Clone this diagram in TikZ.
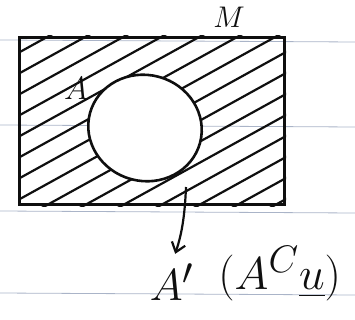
\documentclass[tikz,border=0pt]{standalone}
\usepackage{amsmath,amssymb}
\usetikzlibrary{arrows.meta,positioning,shapes.geometric}
\definecolor{PaperLine}{RGB}{170,180,200}
\definecolor{Ink}{RGB}{15,15,15}
\newcommand{\bigger}[2]{\scalebox{#1}{#2}}
\tikzset{
  universe/.style={draw=Ink,line width=3pt,minimum width=265pt,minimum height=167pt,inner sep=0pt},
  setshape/.style={ellipse,draw=Ink,fill=white,line width=2.6pt,minimum width=114pt,minimum height=106pt,inner sep=0pt},
  hatch/.style={Ink,line width=2.2pt,line cap=round},
  ruled/.style={PaperLine,line width=0.8pt},
  setname/.style={font=\Huge,text=Ink,inner sep=0pt},
  biglabel/.style={font=\Huge,text=Ink,inner sep=0pt},
  arrow/.style={-{Straight Barb[length=9pt,width=14pt]},line width=2.2pt,Ink}
}
\begin{document}
\begin{tikzpicture}[x=1pt,y=-1pt]
  \useasboundingbox (0,0) rectangle (355,320);
  % notebook lines
  \foreach \y in {40,125,211,293}{
    \draw[ruled] (0,\y) -- (355,\y+2);}
  \node[universe] (univ) at (152,121) {};
  % hatching of the complement
  \begin{scope}
    \clip (univ.south west) rectangle (univ.north east);
    \foreach \i in {0,21,...,460}{
      \draw[hatch] (0,\i) -- ++(420,-232);}
  \end{scope}
  \node[setshape,rotate=-15] (setA) at (145,128) {};
  \node[universe] at (univ) {};
  \node[setname] (lblA) at (76,88) {\bigger{1.3}{$A$}};
  \node[setname] (lblM) at (229,17) {\bigger{1.2}{$M$}};
  % complement label
  \node[biglabel] (Aprime) at (172,282) {\bigger{1.8}{$A'$}};
  \node[biglabel,right=24pt of Aprime.south east,anchor=south west] (Ac) {\bigger{1.85}{$(A^{C}\underline{u})$}};
  \coordinate (arrstart) at (186,187);
  \draw[arrow,shorten >=10pt] (arrstart) to[bend left=8] (Aprime.north);
\end{tikzpicture}
\end{document}
